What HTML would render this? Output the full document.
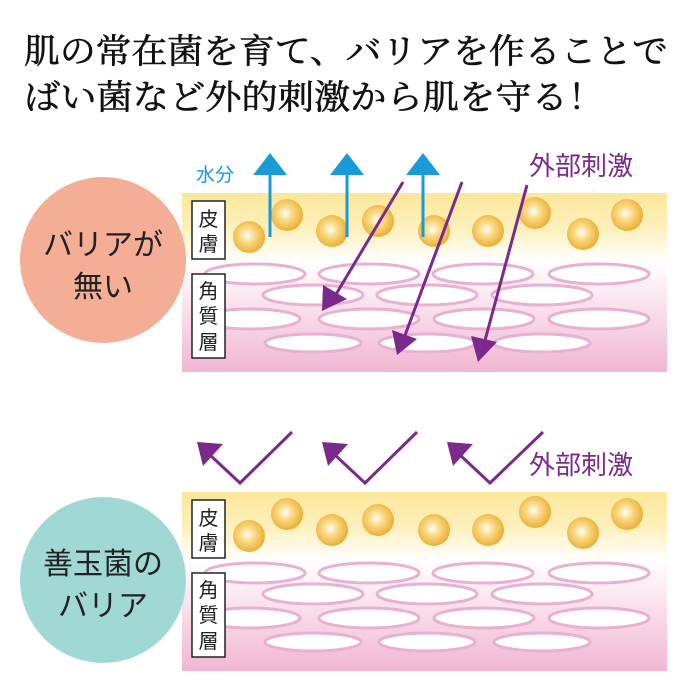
<!DOCTYPE html>
<html><head><meta charset="utf-8"><style>
html,body{margin:0;padding:0;background:#fff;width:700px;height:700px;overflow:hidden}
</style></head><body>
<svg width="700" height="700" viewBox="0 0 700 700" xmlns="http://www.w3.org/2000/svg">
<defs>
<linearGradient id="skin" x1="0" y1="0" x2="0" y2="1">
<stop offset="0" stop-color="#fbe79a"/>
<stop offset="0.2" stop-color="#fdf0bd"/>
<stop offset="0.38" stop-color="#ffffff"/>
<stop offset="0.55" stop-color="#fcebf2"/>
<stop offset="1" stop-color="#f0b6d3"/>
</linearGradient>
<radialGradient id="ball" cx="0.45" cy="0.45" r="0.6">
<stop offset="0" stop-color="#ffffff"/>
<stop offset="0.35" stop-color="#fbdc8a"/>
<stop offset="1" stop-color="#e9a928"/>
</radialGradient>
<g id="cells" fill="#fff" stroke="#eab0d0" stroke-width="3">
<ellipse cx="255" cy="573" rx="50" ry="10"/><ellipse cx="369" cy="573" rx="50" ry="10"/><ellipse cx="483" cy="573" rx="50" ry="10"/><ellipse cx="599" cy="573" rx="50" ry="10"/>
<ellipse cx="313" cy="594" rx="50" ry="10"/><ellipse cx="427" cy="594" rx="50" ry="10"/><ellipse cx="542" cy="594" rx="50" ry="10"/>
<ellipse cx="250" cy="618" rx="50" ry="10"/><ellipse cx="369" cy="618" rx="50" ry="10"/><ellipse cx="484" cy="618" rx="50" ry="10"/><ellipse cx="599" cy="618" rx="50" ry="10"/>
<ellipse cx="313" cy="642" rx="48" ry="9"/><ellipse cx="427" cy="642" rx="48" ry="9"/><ellipse cx="542" cy="642" rx="48" ry="9"/>
</g>
<g id="balls" fill="url(#ball)">
<circle cx="249" cy="536" r="16"/><circle cx="287" cy="514" r="16"/><circle cx="332" cy="530" r="16"/><circle cx="378" cy="520" r="16"/><circle cx="434" cy="530" r="16"/><circle cx="488" cy="530" r="16"/><circle cx="535" cy="512" r="16"/><circle cx="583" cy="533" r="16"/><circle cx="627" cy="514" r="16"/>
</g>
<g id="labels" font-family="'Liberation Sans','Noto Sans CJK JP',sans-serif" font-size="20" fill="#222">
<rect x="192" y="500" width="33" height="58" fill="#fff" stroke="#222" stroke-width="1.5"/>
<text x="208.5" y="525" text-anchor="middle">皮</text><text x="208.5" y="550" text-anchor="middle">膚</text>
<rect x="192" y="573" width="33" height="84" fill="#fff" stroke="#222" stroke-width="1.5"/>
<text x="208.5" y="597" text-anchor="middle">角</text><text x="208.5" y="622" text-anchor="middle">質</text><text x="208.5" y="648" text-anchor="middle">層</text>
</g>
</defs>

<g font-family="'Liberation Serif','Noto Serif CJK SC',serif" font-size="34" fill="#111" stroke="#111" stroke-width="0.6">
<text x="24" y="63" textLength="644" lengthAdjust="spacingAndGlyphs">肌の常在菌を育て、バリアを作ることで</text>
<text x="24" y="109" textLength="580" lengthAdjust="spacingAndGlyphs">ばい菌など外的刺激から肌を守る！</text>
</g>

<g transform="translate(0,-299)">
<rect x="182" y="492" width="485" height="179" fill="url(#skin)"/>
<use href="#cells"/>
<use href="#balls"/>
<use href="#labels"/>
</g>
<g stroke="#1a9bd7" stroke-width="3" fill="#1a9bd7">
<line x1="270" y1="175" x2="270" y2="237"/><polygon points="253,175 287,175 270,153" stroke="none"/>
<line x1="347" y1="175" x2="347" y2="237"/><polygon points="330,175 364,175 347,153" stroke="none"/>
<line x1="423" y1="175" x2="423" y2="237"/><polygon points="406,175 440,175 423,153" stroke="none"/>
</g>
<text x="196" y="181" font-family="'Liberation Sans','Noto Sans CJK JP',sans-serif" font-size="19" fill="#1a9bd7">水分</text>
<g stroke="#7b2a8c" stroke-width="3" fill="#7b2a8c">
<line x1="403" y1="182" x2="335" y2="296"/><polygon points="322,311 323,285 347,299" stroke="none"/>
<line x1="462" y1="182" x2="404" y2="338"/><polygon points="397,355 392,330 417,339" stroke="none"/>
<line x1="527" y1="185" x2="484" y2="344"/><polygon points="478,362 471,336 497,342" stroke="none"/>
</g>
<text x="529" y="175" font-family="'Liberation Sans','Noto Sans CJK JP',sans-serif" font-size="26" fill="#7b2a8c">外部刺激</text>

<circle cx="103" cy="260" r="83" fill="#f4ae96"/>
<g font-family="'Liberation Sans','Noto Sans CJK JP',sans-serif" font-size="30" fill="#222" text-anchor="middle">
<text x="103" y="255">バリアが</text><text x="103" y="297">無い</text>
</g>

<rect x="182" y="492" width="485" height="179" fill="url(#skin)"/>
<use href="#cells"/>
<use href="#balls"/>
<use href="#labels"/>
<g stroke="#7b2a8c" stroke-width="3" fill="none">
<polyline points="292,432 240,483 210,455"/>
<polyline points="417,432 365,483 335,455"/>
<polyline points="543,432 490,483 460,455"/>
</g>
<g fill="#7b2a8c">
<polygon points="197,442 223,444 203,466"/>
<polygon points="322,442 348,444 328,466"/>
<polygon points="447,442 473,444 453,466"/>
</g>
<text x="529" y="474" font-family="'Liberation Sans','Noto Sans CJK JP',sans-serif" font-size="26" fill="#7b2a8c">外部刺激</text>

<circle cx="103" cy="580" r="83" fill="#9fd8d5"/>
<g font-family="'Liberation Sans','Noto Sans CJK JP',sans-serif" font-size="30" fill="#222" text-anchor="middle">
<text x="103" y="574">善玉菌の</text><text x="103" y="616">バリア</text>
</g>
</svg>
</body></html>
